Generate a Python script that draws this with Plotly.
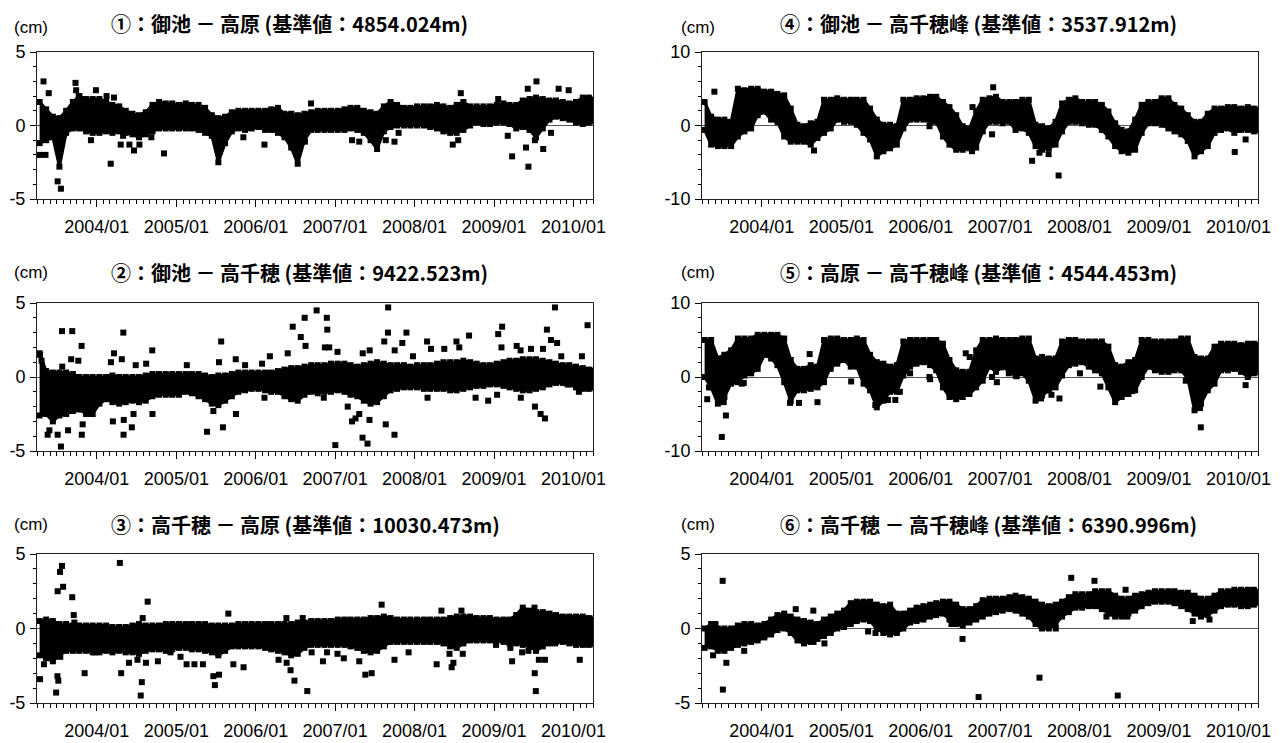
import pandas as pd
import plotly.graph_objects as go

# ---------------- data ----------------
# monthly grid (band envelope), Apr 2003 .. Apr 2010
band_dates = [d.strftime("%Y-%m-%d") for d in
              pd.date_range("2003-04-01", "2010-04-01", freq="MS") + pd.Timedelta(days=12)]

titles = [
    "①：御池 － 高原 (基準値：4854.024m)",
    "②：御池 － 高千穂 (基準値：9422.523m)",
    "③：高千穂 － 高原 (基準値：10030.473m)",
    "④：御池 － 高千穂峰 (基準値：3537.912m)",
    "⑤：高原 － 高千穂峰 (基準値：4544.453m)",
    "⑥：高千穂 － 高千穂峰 (基準値：6390.996m)",
]
unit_label = "(cm)"
x_tick_format = "%Y/%m"
y_ticks_5 = [-5, 0, 5]
y_ticktext_5 = ["-5", "0", "5"]
y_ticks_10 = [-10, 0, 10]
y_ticktext_10 = ["-10", "0", "10"]

# ① 御池 - 高原  (cm)
p1_hi = [1.6, 1.1, 0.6, 0.5, 1.0, 1.6, 2.0, 1.8, 1.8,
         1.8, 1.6, 1.4, 1.3, 1.0, 0.8, 0.7, 0.9, 1.4, 1.6, 1.5, 1.5,
         1.4, 1.5, 1.4, 1.4, 1.2, 0.7, 0.5, 0.6, 0.9, 1.0, 1.0, 1.0,
         1.0, 1.0, 1.1, 1.2, 0.8, 0.8, 0.7, 0.8, 0.9, 1.0, 1.0, 1.0,
         1.0, 1.1, 1.2, 1.2, 1.0, 0.9, 0.8, 1.3, 1.6, 1.4, 1.2, 1.2,
         1.3, 1.3, 1.3, 1.4, 1.3, 1.2, 1.4, 1.6, 1.3, 1.3, 1.3, 1.3,
         1.4, 1.5, 1.4, 1.4, 1.7, 1.8, 1.9, 1.8, 1.7, 1.7, 1.6, 1.5,
         1.6, 1.9, 1.9, 1.8]
p1_lo = [-1.2, -1.0, -0.8, -2.8, -0.5, -0.2, -0.2, -0.4, -0.5,
         -0.5, -0.4, -0.5, -0.4, -0.5, -0.6, -0.8, -0.6, -0.4, -0.2, -0.2, -0.2,
         -0.2, -0.2, -0.2, -0.3, -0.5, -0.7, -2.5, -1.2, -0.4, -0.2, -0.3, -0.2,
         -0.1, -0.3, -0.3, -0.5, -0.8, -1.5, -2.6, -1.0, -0.3, -0.3, -0.3, -0.3,
         -0.3, -0.3, -0.2, -0.3, -0.5, -1.0, -1.6, -0.4, -0.1, 0.0, 0.0, 0.0,
         0.0, 0.0, -0.1, -0.2, -0.4, -0.5, -0.5, -0.3, 0.0, 0.2, 0.1, 0.1,
         0.2, 0.2, 0.1, -0.2, -0.1, -0.3, -0.8, -0.2, 0.4, 0.6, 0.5, 0.4,
         0.2, 0.1, 0.2, 0.2]
p1_out_x = ["2003-04-15", "2003-05-10", "2003-05-01", "2003-05-25", "2003-07-05", "2003-07-20",
            "2003-09-25", "2003-09-28", "2003-10-10", "2003-12-28", "2003-12-05", "2004-02-15",
            "2004-03-20", "2004-03-05", "2004-05-01", "2004-04-20", "2004-05-30", "2004-06-20",
            "2004-07-15", "2004-09-08", "2004-11-05", "2005-11-05", "2006-02-10", "2006-08-15",
            "2006-09-12", "2007-03-20", "2007-04-22", "2007-08-22", "2007-10-01", "2007-10-20",
            "2008-08-01", "2008-06-25", "2008-07-20", "2009-01-20", "2009-03-05", "2009-03-25",
            "2009-05-28", "2009-06-08", "2009-06-05", "2009-07-15", "2009-07-08", "2009-08-15",
            "2009-09-20", "2009-10-25", "2009-12-10"]
p1_out_y = [-2.0, -2.0, 3.0, 2.2, -3.8, -4.3,
            2.9, 2.4, 2.0, 2.4, -1.0, 2.0,
            1.9, -2.6, -0.7, -1.3, -1.3, -1.7,
            -1.3, -0.8, -1.9, -0.8, -1.3, -1.1,
            1.5, -1.0, -1.1, -1.0, -1.1, -0.5,
            2.2, -1.3, -1.0, 1.8, -0.7, -2.1,
            -1.5, -2.8, 2.5, 3.0, -1.0, -1.6,
            -0.5, 2.5, 2.4]

# ② 御池 - 高千穂
p2_hi = [1.6, 0.4, 0.3, 0.3, 0.3, 0.2, 0.0, 0.0, 0.0,
         0.0, 0.0, 0.1, 0.0, 0.0, 0.0, 0.0, 0.1, 0.2, 0.2, 0.2, 0.2,
         0.2, 0.2, 0.2, 0.2, 0.1, 0.0, 0.1, 0.1, 0.2, 0.3, 0.3, 0.3,
         0.3, 0.3, 0.3, 0.4, 0.5, 0.6, 0.6, 0.7, 0.8, 0.8, 0.8, 0.9,
         0.9, 0.9, 0.8, 0.7, 0.8, 0.9, 1.0, 0.9, 0.8, 0.8, 0.8, 0.7,
         0.8, 0.8, 0.8, 0.9, 1.0, 1.0, 1.0, 1.1, 1.0, 0.9, 0.8, 0.8,
         0.9, 1.0, 1.1, 1.1, 1.2, 1.2, 1.2, 1.1, 1.0, 0.9, 0.8, 0.8,
         0.7, 0.6, 0.5, 0.5]
p2_lo = [-2.6, -2.5, -3.0, -2.6, -2.5, -2.3, -2.2, -2.5, -2.5,
         -1.8, -1.5, -1.7, -1.8, -1.7, -1.6, -1.7, -1.6, -1.3, -1.2, -1.2, -1.2,
         -1.2, -1.0, -1.1, -1.3, -1.5, -1.8, -1.9, -1.6, -1.3, -1.0, -0.9, -0.8,
         -0.8, -0.9, -1.0, -1.0, -1.3, -1.5, -1.6, -1.2, -1.0, -1.1, -1.0, -1.0,
         -0.9, -1.0, -1.2, -1.3, -1.6, -1.8, -1.7, -1.3, -0.9, -0.8, -0.7, -0.7,
         -0.7, -0.8, -0.8, -0.8, -0.8, -0.9, -0.9, -0.8, -0.7, -0.6, -0.6, -0.5,
         -0.5, -0.6, -0.7, -0.8, -0.9, -0.9, -0.8, -0.7, -0.5, -0.4, -0.4, -0.5,
         -0.7, -0.8, -0.8, -0.8]
p2_out_x = ["2003-04-15", "2003-04-22", "2003-05-20", "2003-05-28", "2003-07-05", "2003-07-20",
            "2003-07-25", "2003-07-26", "2003-09-10", "2003-08-22", "2003-09-05", "2003-10-08",
            "2003-10-23", "2003-10-24", "2003-10-28", "2003-12-05", "2004-03-06", "2004-03-20",
            "2004-03-15", "2004-04-25", "2004-05-02", "2004-05-03", "2004-05-04", "2004-06-10",
            "2004-06-18", "2004-06-28", "2004-08-15", "2004-09-12", "2004-09-13", "2005-02-18",
            "2005-05-22", "2005-06-20", "2005-07-16", "2005-07-26", "2005-08-03", "2005-10-01",
            "2005-10-02", "2005-11-13", "2006-01-30", "2006-03-07", "2006-02-10", "2006-05-28",
            "2006-06-20", "2006-07-27", "2006-08-18", "2006-08-14", "2006-10-08", "2006-11-24",
            "2006-11-26", "2006-11-15", "2006-12-05", "2006-11-10", "2007-01-02", "2007-01-12",
            "2007-02-28", "2007-03-20", "2007-04-05", "2007-04-22", "2007-05-07", "2007-05-08",
            "2007-05-30", "2007-06-08", "2007-06-09", "2007-08-22", "2007-08-15", "2007-09-01",
            "2007-09-02", "2007-10-01", "2007-10-02", "2007-11-06", "2007-11-25", "2007-12-25",
            "2008-02-28", "2008-03-01", "2008-03-17", "2008-05-17", "2008-07-12", "2008-07-25",
            "2008-09-08", "2008-10-08", "2008-12-05", "2009-01-20", "2009-02-07", "2009-02-04",
            "2009-01-15", "2009-04-15", "2009-05-03", "2009-05-04", "2009-06-20", "2009-07-08",
            "2009-08-03", "2009-08-23", "2009-09-01", "2009-09-20", "2009-10-08", "2009-10-18",
            "2009-08-14", "2009-11-06", "2009-12-05", "2010-01-26", "2010-02-09", "2010-03-07"]
p2_out_y = [1.5, 1.1, -3.9, -3.6, -3.9, -4.7,
            3.1, 0.7, 3.1, -3.6, 1.2, 1.1,
            2.1, -3.9, -3.2, -2.5, 1.0, 1.6,
            -3.0, 1.2, 3.0, -3.9, -2.9, -3.4,
            -2.5, 0.8, 0.9, 1.8, -2.5, 0.8,
            -3.7, -2.3, 1.0, 2.4, -3.4, 1.2,
            -2.5, 0.8, 0.9, 1.4, -1.4, 1.6,
            3.4, 2.7, 2.1, 4.0, 4.5, 4.0,
            3.2, 2.0, 2.0, -1.4, -4.6, 1.7,
            -2.0, -3.0, -2.8, -2.5, -4.1, 1.6,
            -4.5, -2.9, 1.8, -3.2, 2.4, 3.0,
            4.7, -3.9, 1.8, 2.3, 3.0, 1.4,
            2.4, -1.4, 1.9, 1.9, 2.4, 2.0,
            2.8, -1.4, -1.6, 2.9, 3.4, 2.0,
            -1.2, 2.1, 1.8, -1.4, 1.9, -2.0,
            -2.5, -2.8, 3.2, 2.5, 4.7, 2.3,
            1.9, 1.4, -0.5, -1.0, 1.4, 3.5]

# ③ 高千穂 - 高原
p3_hi = [0.5, 0.6, 0.5, 0.3, 0.3, 0.2, 0.2, 0.2, 0.2,
         0.2, 0.2, 0.1, 0.1, 0.1, 0.2, 0.3, 0.2, 0.2, 0.2, 0.3, 0.3,
         0.3, 0.3, 0.3, 0.3, 0.3, 0.2, 0.2, 0.2, 0.2, 0.3, 0.3, 0.3,
         0.3, 0.3, 0.3, 0.3, 0.3, 0.3, 0.4, 0.4, 0.5, 0.5, 0.5, 0.5,
         0.6, 0.6, 0.6, 0.6, 0.6, 0.7, 0.7, 0.8, 0.7, 0.6, 0.6, 0.6,
         0.6, 0.6, 0.6, 0.6, 0.6, 0.7, 0.8, 0.8, 0.8, 0.7, 0.7, 0.7,
         0.6, 0.6, 0.6, 0.9, 1.4, 1.2, 1.1, 1.1, 1.0, 0.9, 0.8, 0.8,
         0.8, 0.8, 0.7, 0.7]
p3_lo = [-1.8, -2.0, -2.2, -1.8, -1.5, -1.5, -1.5, -1.5, -1.6,
         -1.6, -1.5, -1.6, -1.5, -1.6, -1.6, -1.7, -1.5, -1.4, -1.4, -1.5, -1.4,
         -1.3, -1.3, -1.4, -1.4, -1.5, -1.6, -1.8, -1.5, -1.2, -1.2, -1.2, -1.2,
         -1.2, -1.3, -1.4, -1.5, -1.6, -1.8, -1.7, -1.3, -1.1, -1.1, -1.1, -1.1,
         -1.1, -1.1, -1.2, -1.3, -1.5, -1.6, -1.5, -1.2, -0.9, -0.9, -0.9, -0.9,
         -0.9, -0.9, -0.9, -0.9, -1.0, -1.2, -1.3, -1.0, -0.8, -0.8, -0.8, -0.8,
         -0.8, -0.9, -1.0, -1.0, -1.1, -1.2, -1.5, -1.2, -1.0, -0.9, -0.9, -1.0,
         -1.1, -1.1, -1.1, -1.1]
p3_out_x = ["2003-04-15", "2003-05-03", "2003-06-28", "2003-07-04", "2003-07-08", "2003-07-05",
            "2003-07-16", "2003-07-25", "2003-07-30", "2003-07-17", "2003-09-10", "2003-09-17",
            "2003-09-20", "2003-11-06", "2003-12-25", "2004-04-16", "2004-04-22", "2004-05-28",
            "2004-07-06", "2004-07-21", "2004-07-26", "2004-07-30", "2004-08-14", "2004-08-22",
            "2004-10-08", "2004-12-05", "2005-01-20", "2005-02-17", "2005-03-25", "2005-05-03",
            "2005-06-20", "2005-06-27", "2005-07-16", "2005-08-28", "2005-09-20", "2005-11-06",
            "2006-04-16", "2006-05-22", "2006-05-23", "2006-06-10", "2006-06-28", "2006-08-05",
            "2006-08-26", "2006-09-15", "2006-11-06", "2006-11-25", "2007-01-12", "2007-02-10",
            "2007-04-22", "2007-05-20", "2007-06-18", "2007-08-03", "2007-10-01", "2007-12-05",
            "2008-04-12", "2008-05-04", "2008-06-10", "2008-06-20", "2008-06-28", "2008-08-04",
            "2008-08-10", "2008-12-12", "2009-01-10", "2009-03-17", "2009-03-25", "2009-05-10",
            "2009-06-08", "2009-07-07", "2009-07-06", "2009-07-12", "2009-07-26", "2009-08-23",
            "2009-10-08", "2010-01-30"]
p3_out_y = [-3.4, -2.4, -4.3, -3.2, -3.5, 2.5,
            3.8, 4.2, 2.8, -1.9, 2.1, 0.9,
            0.4, -3.0, -1.6, 4.4, -3.0, -2.3,
            -2.1, -4.5, -3.6, 0.7, -2.3, 1.8,
            -2.2, -1.6, -1.9, -2.4, -2.4, -2.4,
            -3.2, -3.8, -3.1, 1.0, -2.4, -2.6,
            -2.1, 0.7, -2.3, -2.8, -3.5, 0.7,
            -4.2, -1.6, -2.2, -1.6, -1.7, -2.0,
            -2.2, -3.1, -3.0, 1.6, -2.1, -1.6,
            -2.4, 1.2, -1.7, -2.6, -2.3, 1.2,
            -1.7, -0.7, -1.1, -1.3, -2.2, -1.6,
            -1.5, -3.0, 1.4, -4.2, -2.1, -2.1,
            -1.0, -2.1]

# ④ 御池 - 高千穂峰
p4_hi = [3.2, 1.2, 0.8, 0.8, 0.5, 5.0, 4.8, 5.0, 5.0,
         4.6, 4.6, 4.3, 4.1, 2.3, 0.1, -0.1, 0.3, 0.5, 3.5, 3.5, 3.7,
         3.5, 3.5, 3.5, 3.5, 2.3, 0.8, 0.1, 0.1, -0.1, 3.5, 3.5, 3.7,
         3.7, 3.9, 3.9, 3.2, 2.5, 1.4, -0.1, -0.4, 2.0, 3.5, 3.7, 3.9,
         3.2, 3.2, 3.2, 3.5, 3.5, 0.1, -0.1, -0.4, 0.5, 3.0, 3.5, 3.7,
         3.2, 3.2, 3.2, 2.8, 1.9, 0.3, -0.6, -0.8, 0.8, 2.8, 3.2, 3.2,
         3.7, 3.7, 2.8, 2.3, 1.4, 0.5, 0.5, 1.6, 2.3, 2.3, 2.5, 2.5,
         2.3, 2.5, 2.3, 2.3]
p4_lo = [-0.6, -2.6, -2.8, -2.8, -2.8, -1.5, -0.8, -0.4, 1.4,
         1.9, 0.8, 0.5, -1.5, -2.2, -2.2, -2.2, -2.6, -1.7, -1.0, -0.4, 0.8,
         0.5, 0.5, 0.1, -1.0, -1.9, -4.2, -3.5, -3.1, -2.6, -0.4, 0.8, 0.8,
         0.8, 0.5, 0.5, -1.5, -2.6, -3.3, -3.3, -3.1, -3.0, -0.8, 0.5, 0.5,
         0.3, 0.5, -0.6, -0.4, -1.0, -2.8, -3.3, -3.1, -2.6, -0.8, 0.5, 0.5,
         0.3, 0.1, 0.1, -0.6, -1.5, -2.8, -3.5, -3.7, -3.3, -1.0, 0.3, 0.3,
         0.1, -0.4, -0.8, -1.2, -2.1, -4.2, -3.5, -2.8, -1.0, -0.6, -0.4, -1.0,
         -0.6, -0.6, -0.8, -0.8]
p4_out_x = ["2003-05-28", "2004-08-28", "2006-02-10", "2006-08-25", "2006-08-27", "2006-11-30",
            "2006-11-25", "2007-05-28", "2007-07-01", "2007-08-12", "2007-09-27", "2008-10-18",
            "2009-12-15", "2010-02-03"]
p4_out_y = [4.6, -3.4, -0.1, -3.5, 2.5, 5.2,
            -1.2, -4.8, -3.7, -3.9, -6.8, 2.8,
            -3.6, -1.9]

# ⑤ 高原 - 高千穂峰
p5_hi = [5.0, 5.0, 2.5, 3.0, 3.6, 5.2, 5.2, 5.2, 5.7,
         5.7, 5.7, 5.7, 5.2, 2.3, 1.1, 1.1, 1.6, 1.4, 5.0, 5.2, 5.2,
         5.0, 5.0, 5.2, 5.0, 3.0, 2.0, 1.8, 1.4, 1.6, 4.8, 5.0, 5.0,
         5.0, 5.0, 5.0, 4.5, 2.3, 0.9, 0.7, 0.7, 3.6, 5.0, 5.0, 5.2,
         5.0, 5.0, 5.0, 5.2, 5.2, 2.5, 2.7, 2.5, 2.5, 4.8, 5.0, 5.0,
         4.8, 4.8, 4.8, 4.8, 4.1, 1.6, 1.4, 2.0, 2.3, 5.0, 5.0, 4.8,
         4.8, 4.8, 4.8, 5.2, 5.2, 2.7, 2.5, 2.5, 4.1, 4.5, 4.5, 4.5,
         4.3, 4.5, 4.5, 4.5]
p5_lo = [0.0, -1.4, -3.6, -2.7, -0.9, -0.7, 0.2, 0.5, 1.1,
         3.0, 2.5, 1.6, -0.7, -3.2, -1.8, -1.8, -1.6, -1.4, -0.7, 1.4, 1.8,
         2.3, 1.4, 1.4, -0.9, -1.8, -4.1, -3.2, -2.0, -2.0, 0.2, 1.4, 1.8,
         2.0, 1.6, 0.9, -1.4, -2.7, -3.0, -2.7, -2.3, -1.4, -0.5, 1.4, 0.7,
         1.4, 0.7, 0.2, 0.5, -0.5, -3.2, -2.5, -1.8, -1.4, 0.2, 1.6, 1.8,
         2.0, 1.4, 0.9, 0.5, -1.4, -3.4, -2.7, -2.3, -1.8, 0.0, 1.4, 0.9,
         0.7, 0.7, 0.9, 0.9, -0.2, -4.5, -3.6, -1.8, -0.9, 0.9, 0.9, 1.1,
         0.7, 0.0, 0.5, 0.5]
p5_out_x = ["2003-04-25", "2003-05-03", "2003-07-01", "2003-07-20", "2003-07-10", "2003-06-30",
            "2003-10-01", "2003-10-10", "2004-05-10", "2004-06-20", "2004-08-08", "2004-09-13",
            "2004-11-12", "2005-02-15", "2005-06-06", "2005-08-03", "2005-09-06", "2005-09-27",
            "2005-11-13", "2006-02-10", "2006-02-13", "2006-07-27", "2006-08-14", "2006-11-25",
            "2006-12-17", "2007-01-05", "2007-02-10", "2007-03-18", "2007-07-08", "2007-08-25",
            "2007-10-01", "2008-01-03", "2008-04-06", "2008-08-30", "2008-12-15", "2009-02-02",
            "2009-05-04", "2009-06-10", "2009-07-08", "2009-07-12", "2010-02-03"]
p5_out_y = [-3.0, -1.4, -8.1, -5.2, -3.4, -2.3,
            -0.9, -0.8, -3.5, -3.5, 3.1, -3.4,
            1.1, -0.6, -3.8, -3.1, -3.1, -2.0,
            0.5, 0.0, -0.3, 3.2, 2.7, 0.0,
            -0.7, 1.3, 0.5, 0.1, -2.9, -2.4,
            -2.9, 0.5, -1.3, -1.9, 1.1, 1.4,
            -0.5, -1.8, -4.2, -6.8, -1.1]

# ⑥ 高千穂 - 高千穂峰
p6_hi = [0.0, 0.3, 0.0, 0.0, 0.0, 0.2, 0.3, 0.3, 0.2,
         0.3, 0.6, 0.9, 1.0, 0.8, 0.6, 0.5, 0.4, 0.3, 0.6, 0.8, 1.0,
         1.2, 1.7, 1.8, 1.8, 1.8, 1.6, 1.5, 1.6, 1.0, 1.0, 1.2, 1.4,
         1.5, 1.6, 1.7, 1.8, 1.8, 1.6, 1.3, 1.3, 1.5, 1.9, 2.0, 2.0,
         2.0, 2.1, 2.2, 2.1, 2.0, 1.8, 1.6, 1.5, 1.6, 1.8, 2.1, 2.3,
         2.3, 2.3, 2.5, 2.5, 2.5, 2.2, 2.0, 2.0, 2.2, 2.3, 2.4, 2.5,
         2.5, 2.5, 2.5, 2.4, 2.4, 2.2, 2.0, 2.0, 2.2, 2.5, 2.5, 2.6,
         2.6, 2.6, 2.6, 2.5]
p6_lo = [-1.3, -1.2, -1.5, -1.5, -1.3, -1.1, -1.0, -0.9, -0.8,
         -0.6, -0.4, -0.1, 0.0, -0.3, -0.8, -1.0, -0.9, -0.7, -0.5, -0.3, 0.0,
         0.1, 0.3, 0.5, 0.6, 0.5, 0.0, -0.3, -0.4, -0.3, 0.0, 0.4, 0.5,
         0.6, 0.8, 0.9, 1.0, 0.6, 0.3, 0.2, 0.4, 0.6, 0.8, 1.0, 1.1,
         1.2, 1.3, 1.2, 1.0, 0.8, 0.3, 0.0, 0.0, 0.3, 0.8, 1.1, 1.4,
         1.4, 1.5, 1.5, 1.3, 1.0, 0.8, 0.8, 1.0, 1.2, 1.5, 1.7, 1.8,
         1.8, 1.8, 1.7, 1.5, 1.3, 1.0, 0.8, 0.9, 1.2, 1.5, 1.6, 1.6,
         1.5, 1.5, 1.6, 1.7]
p6_out_x = ["2003-05-22", "2003-06-02", "2003-07-05", "2003-07-06", "2003-07-22", "2003-10-12",
            "2004-06-05", "2004-08-25", "2004-08-26", "2004-10-15", "2005-01-12", "2005-05-04",
            "2005-06-07", "2006-05-22", "2006-07-12", "2006-09-24", "2007-07-01", "2007-09-14",
            "2007-11-24", "2008-03-10", "2008-06-25", "2008-07-31", "2008-05-04", "2008-08-08",
            "2009-06-05", "2009-08-21"]
p6_out_y = [-1.8, 0.3, 3.2, -4.1, -2.3, -1.5,
            1.3, 1.2, -0.9, -1.0, 0.1, -0.2,
            -0.3, 0.3, -0.7, -4.6, -3.3, 0.0,
            3.4, 3.2, -4.5, 2.6, 0.8, 0.8,
            0.5, 0.6]

panels = [
    (p1_hi, p1_lo, p1_out_x, p1_out_y),
    (p2_hi, p2_lo, p2_out_x, p2_out_y),
    (p3_hi, p3_lo, p3_out_x, p3_out_y),
    (p4_hi, p4_lo, p4_out_x, p4_out_y),
    (p5_hi, p5_lo, p5_out_x, p5_out_y),
    (p6_hi, p6_lo, p6_out_x, p6_out_y),
]
y_limits = [5, 5, 5, 10, 10, 5]

# ---------------- layout geometry ----------------
# the figure sits at the page's default 8px body margin
OFF = 8
W, H = 1280 - OFF, 743 - OFF
col_px = [(37, 593), (702, 1258)]          # page pixels
row_px = [(52, 199), (303, 451), (554, 703)]
title_y_px = [23, 272, 524]
cm_y_px = [27, 272, 524]
title_x_px = [109, 778]
cm_x_px = [31, 698]


def fx(px):
    return (px - OFF) / W


def fy(py):
    return 1 - (py - OFF) / H


FONT = "Liberation Sans, Arial, Noto Sans CJK JP, sans-serif"
TFONT = "Noto Sans CJK JP, sans-serif"

fig = go.Figure()
annotations = []
for i, (hi, lo, ox, oy) in enumerate(panels):
    n = i + 1
    col = 0 if i < 3 else 1
    row = i % 3
    xa = "x" if n == 1 else f"x{n}"
    ya = "y" if n == 1 else f"y{n}"
    fig.add_trace(go.Scatter(x=band_dates, y=hi, mode="lines+markers",
                             line=dict(color="black", width=3),
                             marker=dict(symbol="square", size=6, color="black"),
                             xaxis=xa, yaxis=ya, showlegend=False, hoverinfo="skip"))
    fig.add_trace(go.Scatter(x=band_dates, y=lo, mode="lines+markers", fill="tonexty",
                             fillcolor="black", line=dict(color="black", width=3),
                             marker=dict(symbol="square", size=6, color="black"),
                             xaxis=xa, yaxis=ya, showlegend=False, hoverinfo="skip"))
    fig.add_trace(go.Scatter(x=ox, y=oy, mode="markers",
                             marker=dict(symbol="square", size=6, color="black"),
                             xaxis=xa, yaxis=ya, showlegend=False))
    x0, x1 = col_px[col]
    y0, y1 = row_px[row]
    lim = y_limits[i]
    tv, tt = (y_ticks_5, y_ticktext_5) if lim == 5 else (y_ticks_10, y_ticktext_10)
    fig.update_layout(**{
        ("xaxis" if n == 1 else f"xaxis{n}"): dict(
            domain=[fx(x0), fx(x1)], anchor=ya, type="date", automargin=False,
            range=["2003-04-01", "2010-04-01"],
            tick0="2004-01-01", dtick="M12", tickformat=x_tick_format,
            ticks="outside", ticklen=7, tickcolor="black", tickwidth=1,
            minor=dict(dtick="M1", ticks="outside", ticklen=4, tickcolor="black"),
            showline=True, linecolor="#222", linewidth=1, mirror=True,
            showgrid=False, zeroline=False, ticklabelstandoff=4,
            tickfont=dict(family=FONT, size=18, color="black")),
        ("yaxis" if n == 1 else f"yaxis{n}"): dict(
            domain=[fy(y1), fy(y0)], anchor=xa, automargin=False,
            range=[-lim, lim], tickmode="array", tickvals=tv, ticktext=tt,
            ticks="outside", ticklen=6, tickcolor="black",
            minor=dict(tick0=0, dtick=lim / 5, ticks="outside", ticklen=3,
                       tickcolor="black"),
            showline=True, linecolor="#222", linewidth=1, mirror=True,
            showgrid=False, zeroline=True, zerolinecolor="#555", zerolinewidth=1,
            ticklabelstandoff=1,
            tickfont=dict(family=FONT, size=18, color="black")),
    })
    annotations.append(dict(text=titles[i], x=fx(title_x_px[col]), y=fy(title_y_px[row]),
                            xref="paper", yref="paper", xanchor="left", yanchor="middle",
                            showarrow=False,
                            font=dict(family=TFONT, size=20, color="black", weight="bold")))
    annotations.append(dict(text=unit_label, x=fx(cm_x_px[col]), y=fy(cm_y_px[row]),
                            xref="paper", yref="paper", xanchor="center", yanchor="middle",
                            showarrow=False, font=dict(family=FONT, size=17, color="black")))

fig.update_layout(width=W, height=H,
                  margin=dict(l=0, r=0, t=0, b=0, pad=0, autoexpand=False),
                  paper_bgcolor="white", plot_bgcolor="white",
                  annotations=annotations, showlegend=False)
fig.write_html("out.html")
